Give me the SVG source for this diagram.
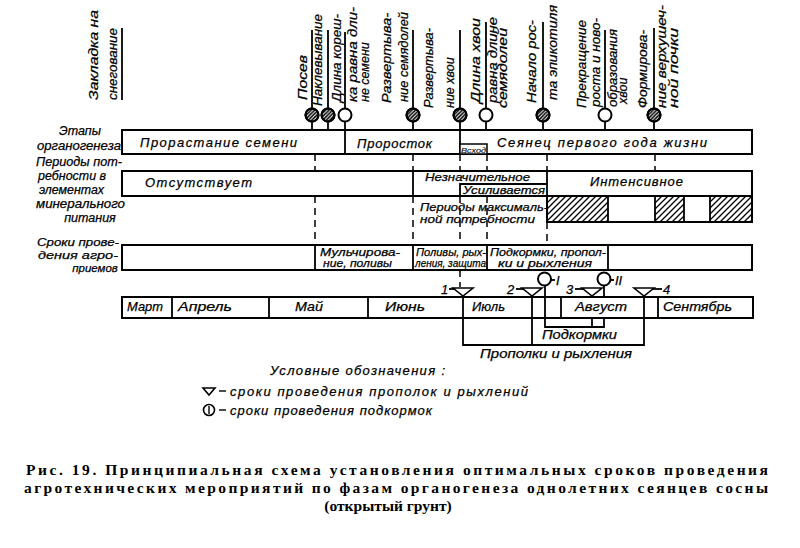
<svg xmlns="http://www.w3.org/2000/svg" width="800" height="548" viewBox="0 0 800 548">
<defs>
<pattern id="hatch" patternUnits="userSpaceOnUse" width="6" height="6">
<path d="M-1,1 L1,-1 M0,6 L6,0 M5,7 L7,5" stroke="#000" stroke-width="1.3"/>
</pattern>
<pattern id="hatchc" patternUnits="userSpaceOnUse" width="3.6" height="3.6">
<path d="M-1,1 L1,-1 M0,3.6 L3.6,0 M2.6,4.6 L4.6,2.6" stroke="#000" stroke-width="1.5"/>
</pattern>
</defs>
<style>
.t{font-family:"Liberation Sans","DejaVu Sans",sans-serif;font-style:italic;font-size:13px;fill:#000;stroke:#000;stroke-width:0.25}
.s{font-size:11px}
.r{font-size:12.5px}
.box{fill:#fff;stroke:#000;stroke-width:2}
.ln{stroke:#000;stroke-width:1.8;fill:none}
.dash{stroke:#000;stroke-width:1.5;stroke-dasharray:7 5;fill:none}
.cw{fill:#fff;stroke:#000;stroke-width:2}
.ch{fill:url(#hatchc);stroke:#000;stroke-width:2}
.tri{fill:#fff;stroke:#000;stroke-width:1.6}
.cap{font-family:"Liberation Serif","DejaVu Serif",serif;font-weight:bold;font-size:15.5px;fill:#000}
</style>
<rect width="800" height="548" fill="#fff"/>

<!-- Connectors -->
<g id="connectors">
<path class="dash" d="M315,154 V171 M315,196 V245 M413,154 V171 M413,196 V245 M460,154 V171 M460,196 V245 M460,270 V287 M487,154 V171 M487,196 V245 M547,154 V171 M547,222 V245 M655,154 V171"/>
<path class="ln" d="M463,295 V345 H644 V295 M532,295 V345 M592,318 V327 M545,285.5 V327 H604 V318 M604,285.5 V297"/>
</g>

<!-- Top markers -->
<g id="m-zakladka">
<line class="ln" x1="122" y1="28" x2="122" y2="100"/>
<text class="t r" transform="translate(98,100) rotate(-90)" textLength="90" lengthAdjust="spacingAndGlyphs">Закладка на</text>
<text class="t r" transform="translate(117,100) rotate(-90)" textLength="72" lengthAdjust="spacingAndGlyphs">снегование</text>
</g>
<g id="m-posev">
<line class="ln" x1="312" y1="30" x2="312" y2="130"/>
<circle class="cw" cx="312" cy="115" r="6.5"/><circle class="ch" cx="312" cy="115" r="6.5"/>
<text class="t r" transform="translate(307,100) rotate(-90)" textLength="45" lengthAdjust="spacingAndGlyphs">Посев</text>
</g>
<g id="m-naklev">
<line class="ln" x1="328" y1="30" x2="328" y2="130"/>
<circle class="cw" cx="328" cy="115" r="6.5"/><circle class="ch" cx="328" cy="115" r="6.5"/>
<text class="t r" transform="translate(322,106) rotate(-90)" textLength="92" lengthAdjust="spacingAndGlyphs">Наклевывание</text>
</g>
<g id="m-koreshok">
<line class="ln" x1="345" y1="32" x2="345" y2="130"/>
<circle class="cw" cx="345" cy="115" r="6.5"/>
<text class="t r" transform="translate(341,102) rotate(-90)" textLength="88" lengthAdjust="spacingAndGlyphs">Длина кореш-</text>
<text class="t r" transform="translate(357,102) rotate(-90)" textLength="95" lengthAdjust="spacingAndGlyphs">ка равна дли-</text>
<text class="t r" transform="translate(369,102) rotate(-90)">не семени</text>
</g>
<g id="m-semyadoli">
<line class="ln" x1="413" y1="30" x2="413" y2="130"/>
<circle class="cw" cx="413" cy="115" r="6.5"/><circle class="ch" cx="413" cy="115" r="6.5"/>
<text class="t r" transform="translate(391,103) rotate(-90)" textLength="90" lengthAdjust="spacingAndGlyphs">Развертыва-</text>
<text class="t r" transform="translate(408,102) rotate(-90)" textLength="90" lengthAdjust="spacingAndGlyphs">ние семядолей</text>
</g>
<g id="m-hvoya">
<line class="ln" x1="460" y1="30" x2="460" y2="130"/>
<circle class="cw" cx="460" cy="115" r="6.5"/><circle class="ch" cx="460" cy="115" r="6.5"/>
<text class="t r" transform="translate(433,108) rotate(-90)" textLength="80" lengthAdjust="spacingAndGlyphs">Развертыва-</text>
<text class="t r" transform="translate(454,108) rotate(-90)">ние хвои</text>
</g>
<g id="m-dlina-hvoi">
<line class="ln" x1="486" y1="22" x2="486" y2="130"/>
<circle class="cw" cx="486" cy="115" r="6.5"/>
<text class="t r" transform="translate(480,103) rotate(-90)" textLength="85" lengthAdjust="spacingAndGlyphs">Длина хвои</text>
<text class="t r" transform="translate(497,103) rotate(-90)" textLength="86" lengthAdjust="spacingAndGlyphs">равна длине</text>
<text class="t r" transform="translate(507,108) rotate(-90)" textLength="80" lengthAdjust="spacingAndGlyphs">семядолей</text>
</g>
<g id="m-epikotil">
<line class="ln" x1="543" y1="22" x2="543" y2="130"/>
<circle class="cw" cx="543" cy="115" r="6.5"/><circle class="ch" cx="543" cy="115" r="6.5"/>
<text class="t r" transform="translate(536,103) rotate(-90)" textLength="83" lengthAdjust="spacingAndGlyphs">Начало рос-</text>
<text class="t r" transform="translate(557,100) rotate(-90)" textLength="95" lengthAdjust="spacingAndGlyphs">та эпикотиля</text>
</g>
<g id="m-prekrash">
<line class="ln" x1="605" y1="30" x2="605" y2="130"/>
<circle class="cw" cx="605" cy="115" r="6.5"/>
<text class="t r" transform="translate(586,108) rotate(-90)" textLength="88" lengthAdjust="spacingAndGlyphs">Прекращение</text>
<text class="t r" transform="translate(600,107) rotate(-90)" textLength="89" lengthAdjust="spacingAndGlyphs">роста и ново-</text>
<text class="t r" transform="translate(617,107) rotate(-90)" textLength="78" lengthAdjust="spacingAndGlyphs">образования</text>
<text class="t r" transform="translate(627,104) rotate(-90)">хвои</text>
</g>
<g id="m-pochka">
<line class="ln" x1="654" y1="28" x2="654" y2="130"/>
<circle class="cw" cx="654" cy="115" r="6.5"/><circle class="ch" cx="654" cy="115" r="6.5"/>
<text class="t r" transform="translate(647,108) rotate(-90)" textLength="78" lengthAdjust="spacingAndGlyphs">Формирова-</text>
<text class="t r" transform="translate(666,108) rotate(-90)" textLength="103" lengthAdjust="spacingAndGlyphs">ние верхушеч-</text>
<text class="t r" transform="translate(678,108) rotate(-90)" textLength="80" lengthAdjust="spacingAndGlyphs">ной почки</text>
</g>

<!-- Left labels -->
<g id="lbl-etapy">
<text class="t r" x="80" y="135" text-anchor="middle">Этапы</text>
<text class="t r" x="37" y="150" textLength="84" lengthAdjust="spacingAndGlyphs">органогенеза</text>
</g>
<g id="lbl-periody">
<text class="t r" x="36" y="166" textLength="86" lengthAdjust="spacingAndGlyphs">Периоды пот-</text>
<text class="t r" x="38" y="180" textLength="68" lengthAdjust="spacingAndGlyphs">ребности в</text>
<text class="t r" x="39" y="194" textLength="65" lengthAdjust="spacingAndGlyphs">элементах</text>
<text class="t r" x="36" y="208" textLength="89" lengthAdjust="spacingAndGlyphs">минерального</text>
<text class="t r" x="90" y="222" text-anchor="middle">питания</text>
</g>
<g id="lbl-sroki">
<text class="t" x="37" y="246" style="font-size:11.5px" textLength="82" lengthAdjust="spacingAndGlyphs">Сроки прове-</text>
<text class="t" x="38" y="259" style="font-size:11.5px" textLength="80" lengthAdjust="spacingAndGlyphs">дения агро-</text>
<text class="t" x="95" y="272" style="font-size:11.5px" text-anchor="middle">приемов</text>
</g>

<!-- Row 1 -->
<g id="row-organogenez">
<rect class="box" x="122" y="130" width="630" height="24"/>
<line class="ln" x1="345" y1="130" x2="345" y2="154"/>
<line class="ln" x1="460" y1="130" x2="460" y2="154"/>
<rect x="460" y="144" width="27" height="10" fill="#fff" stroke="#000" stroke-width="1.5"/>
<text class="t" x="473.5" y="152.5" text-anchor="middle" style="font-size:8px;stroke-width:0.1" textLength="25" lengthAdjust="spacingAndGlyphs">Всход</text>
<text class="t" x="140" y="147" textLength="157" lengthAdjust="spacing">Прорастание семени</text>
<text class="t" x="357" y="148" textLength="75" lengthAdjust="spacing">Проросток</text>
<text class="t" x="497" y="147" textLength="210" lengthAdjust="spacing">Сеянец первого года жизни</text>
</g>

<!-- Row 2 -->
<g id="row-potrebnost">
<rect class="box" x="122" y="171" width="630" height="25"/>
<rect class="box" x="547" y="196" width="205" height="26"/>
<rect x="547" y="196" width="61" height="26" fill="url(#hatch)"/>
<rect x="655" y="196" width="29" height="26" fill="url(#hatch)"/>
<rect x="710" y="196" width="42" height="26" fill="url(#hatch)"/>
<path class="ln" d="M413,171 V196 M547,171 V222 M460,196 V184 H547 M608,196 V222 M655,196 V222 M684,196 V222 M710,196 V222"/>
<rect x="547" y="196" width="205" height="26" fill="none" stroke="#000" stroke-width="2"/>
<text class="t" x="145" y="187" textLength="107" lengthAdjust="spacing">Отсутствует</text>
<text class="t s" x="425" y="181" textLength="105" lengthAdjust="spacingAndGlyphs">Незначительное</text>
<text class="t" x="463" y="194" style="font-size:10px" textLength="82" lengthAdjust="spacingAndGlyphs">Усиливается</text>
<text class="t" x="590" y="186" textLength="93" lengthAdjust="spacing">Интенсивное</text>
<text class="t s" x="420" y="211" textLength="128" lengthAdjust="spacingAndGlyphs">Периоды максималь-</text>
<text class="t s" x="420" y="223" textLength="115" lengthAdjust="spacingAndGlyphs">ной потребности</text>
</g>

<!-- Row 3 -->
<g id="row-agropriemy">
<rect class="box" x="122" y="245" width="630" height="25"/>
<path class="ln" d="M315,245 V270 M413,245 V270 M487,245 V270 M608,245 V270"/>
<text class="t s" x="320" y="256" textLength="80" lengthAdjust="spacingAndGlyphs">Мульчирова-</text>
<text class="t s" x="323" y="267" textLength="69" lengthAdjust="spacingAndGlyphs">ние, поливы</text>
<text class="t s" x="416" y="256" textLength="70" lengthAdjust="spacingAndGlyphs">Поливы, рых-</text>
<text class="t s" x="415" y="267" textLength="71" lengthAdjust="spacingAndGlyphs">ления, защита</text>
<text class="t s" x="490" y="256" textLength="116" lengthAdjust="spacingAndGlyphs">Подкормки, пропол-</text>
<text class="t s" x="498" y="267" textLength="94" lengthAdjust="spacingAndGlyphs">ки и рыхления</text>
</g>

<!-- Month bar -->
<g id="months">
<rect class="box" x="122" y="297" width="631" height="21"/>
<path class="ln" d="M172,297 V318 M269,297 V318 M368,297 V318 M561,297 V318 M658,297 V318 M463,297 V318 M532,297 V318 M545,297 V318 M644,297 V318"/>
<text class="t" x="127" y="311" textLength="36" lengthAdjust="spacingAndGlyphs">Март</text>
<text class="t" x="178" y="311" textLength="54" lengthAdjust="spacingAndGlyphs">Апрель</text>
<text class="t" x="295" y="311" textLength="28" lengthAdjust="spacingAndGlyphs">Май</text>
<text class="t" x="385" y="311" textLength="40" lengthAdjust="spacingAndGlyphs">Июнь</text>
<text class="t" x="472" y="311" textLength="33" lengthAdjust="spacingAndGlyphs">Июль</text>
<text class="t" x="575" y="311" textLength="52" lengthAdjust="spacingAndGlyphs">Август</text>
<text class="t" x="663" y="311" textLength="69" lengthAdjust="spacingAndGlyphs">Сентябрь</text>
</g>

<!-- Bottom marks -->
<g id="mark-1">
<line class="ln" x1="449" y1="289" x2="455" y2="289"/>
<polygon class="tri" points="453,288 473,288 463,296"/>
<text class="t" x="441" y="294">1</text>
</g>
<g id="mark-2">
<line class="ln" x1="516" y1="289" x2="523" y2="289"/>
<polygon class="tri" points="522,288 542,288 532,296"/>
<text class="t" x="507" y="294">2</text>
</g>
<g id="mark-3">
<line class="ln" x1="575" y1="289" x2="583" y2="289"/>
<polygon class="tri" points="582,288 602,288 592,296"/>
<text class="t" x="566" y="294">3</text>
</g>
<g id="mark-4">
<line class="ln" x1="653" y1="289" x2="662" y2="289"/>
<polygon class="tri" points="634,288 654,288 644,296"/>
<text class="t" x="663" y="294">4</text>
</g>
<g id="mark-I">
<circle class="cw" cx="544.5" cy="279" r="6.5"/>
<line class="ln" x1="551" y1="280" x2="555" y2="280"/>
<text class="t" x="556" y="285">I</text>
</g>
<g id="mark-II">
<circle class="cw" cx="604" cy="279" r="6.5"/>
<line class="ln" x1="610.5" y1="280" x2="614" y2="280"/>
<text class="t" x="615" y="285">II</text>
</g>
<g id="brackets-labels">
<text class="t" x="542" y="339" textLength="75" lengthAdjust="spacingAndGlyphs">Подкормки</text>
<text class="t" x="480" y="358" textLength="152" lengthAdjust="spacingAndGlyphs">Прополки и рыхления</text>
</g>

<!-- Legend -->
<g id="legend">
<text class="t" x="270" y="375" textLength="175" lengthAdjust="spacing">Условные обозначения :</text>
<polygon class="tri" points="203,388 215,388 209,395"/>
<line class="ln" x1="219" y1="391" x2="226" y2="391" style="stroke-width:1.4"/>
<text class="t" x="230" y="396" textLength="298" lengthAdjust="spacing">сроки проведения прополок и рыхлений</text>
<circle cx="209" cy="410" r="5.5" fill="#fff" stroke="#000" stroke-width="1.6"/>
<line x1="209" y1="406" x2="209" y2="414" stroke="#000" stroke-width="1.4"/>
<line class="ln" x1="219" y1="410" x2="226" y2="410" style="stroke-width:1.4"/>
<text class="t" x="230" y="415" textLength="202" lengthAdjust="spacing">сроки проведения подкормок</text>
</g>

<!-- Caption -->
<g id="caption">
<text class="cap" x="26" y="475" textLength="742" lengthAdjust="spacing">Рис. 19. Принципиальная схема установления оптимальных сроков проведения</text>
<text class="cap" x="24" y="493" textLength="744" lengthAdjust="spacing">агротехнических мероприятий по фазам органогенеза однолетних сеянцев сосны</text>
<text class="cap" x="388" y="511" text-anchor="middle">(открытый грунт)</text>
</g>
</svg>
